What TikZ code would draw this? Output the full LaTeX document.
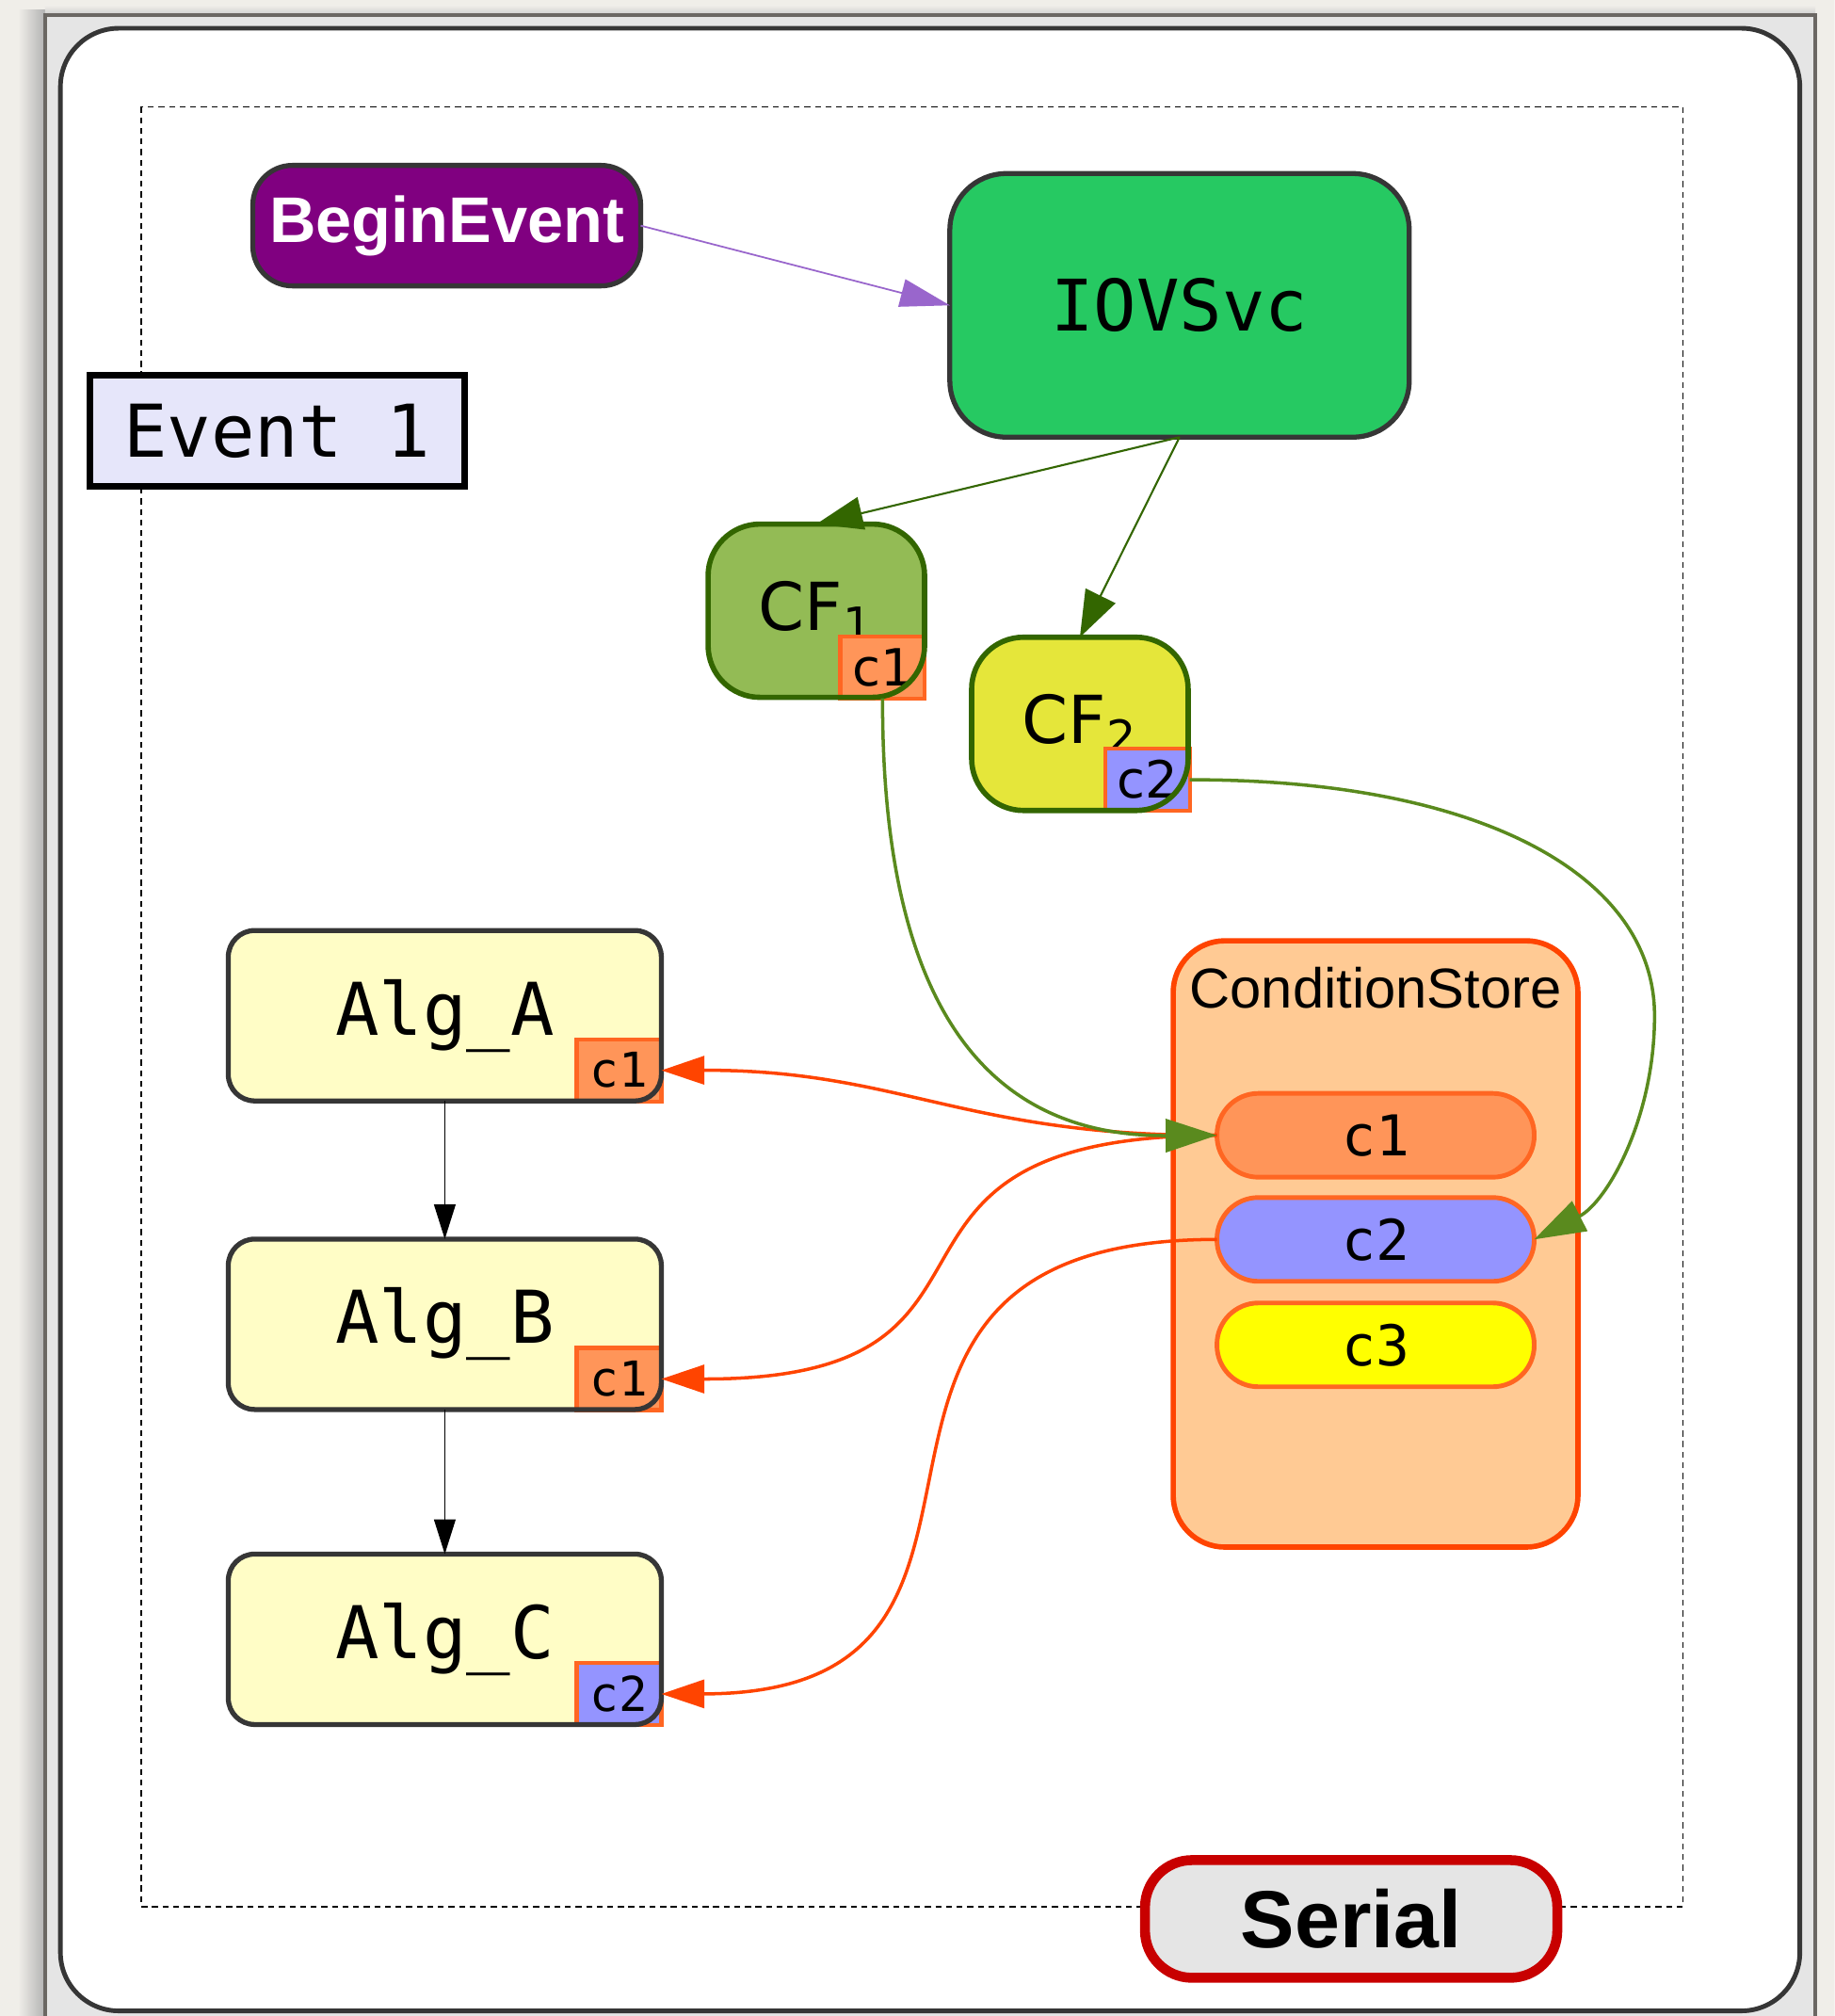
\documentclass[tikz,border=0pt]{standalone}
\usepackage{fontspec}
\setmainfont{Liberation Sans}
\newfontfamily\monofont{DejaVu Sans Mono}
\newfontfamily\cffont{DejaVu Sans}
\usetikzlibrary{arrows.meta,positioning}
\definecolor{paper}{HTML}{F0EEE9}
\definecolor{framegray}{HTML}{E5E5E5}
\definecolor{framedark}{HTML}{6B6763}
\definecolor{edgegray}{HTML}{363636}
\definecolor{mypurple}{HTML}{800080}
\definecolor{linkpurple}{HTML}{9966CC}
\definecolor{iovgreen}{HTML}{26C962}
\definecolor{cfgreen}{HTML}{93BB55}
\definecolor{cfyellow}{HTML}{E5E63A}
\definecolor{darkgreen}{HTML}{336600}
\definecolor{linkgreen}{HTML}{5A8A1E}
\definecolor{condorange}{HTML}{FF9559}
\definecolor{condedge}{HTML}{FF6622}
\definecolor{condblue}{HTML}{9494FF}
\definecolor{condyellow}{HTML}{FFFF00}
\definecolor{storefill}{HTML}{FFCA94}
\definecolor{storeedge}{HTML}{FF4400}
\definecolor{algfill}{HTML}{FFFDC6}
\definecolor{eventfill}{HTML}{E6E6FA}
\definecolor{serialred}{HTML}{C80000}

\begin{document}
\begin{tikzpicture}[x=0.013651cm,y=-0.013651cm,
    box/.style={rectangle, inner sep=0pt, outer sep=0pt},
    beginbox/.style={box, fill=mypurple, draw=edgegray, line width=1.5pt, rounded corners=0.42cm,
        minimum width=4.12cm, minimum height=1.28cm, text=white, font=\fontsize{19.5}{22}\selectfont\bfseries},
    iovbox/.style={box, fill=iovgreen, draw=edgegray, line width=1.5pt, rounded corners=0.6cm,
        minimum width=4.88cm, minimum height=2.8cm, font=\monofont\fontsize{21.5}{24}\selectfont},
    eventbox/.style={box, fill=eventfill, draw=black, line width=2pt,
        minimum width=3.98cm, minimum height=1.18cm, font=\monofont\fontsize{22}{24}\selectfont},
    cfbody/.style={box, rounded corners=0.55cm, minimum width=2.3cm, minimum height=1.84cm,
        font=\cffont\fontsize{20}{22}\selectfont},
    cfline/.style={draw=darkgreen, line width=1.6pt, rounded corners=0.55cm},
    tagbox/.style={box, draw=condedge, line width=1.2pt, minimum width=0.9cm, minimum height=0.66cm},
    algbody/.style={box, fill=algfill, rounded corners=0.28cm, minimum width=4.6cm, minimum height=1.81cm,
        font=\monofont\fontsize{22}{24}\selectfont},
    algline/.style={draw=edgegray, line width=1.5pt, rounded corners=0.28cm},
    storebox/.style={box, fill=storefill, draw=storeedge, line width=1.6pt, rounded corners=0.55cm,
        minimum width=4.3cm, minimum height=6.44cm},
    pill/.style={box, draw=condedge, line width=1.4pt, rounded corners=0.44cm,
        minimum width=3.37cm, minimum height=0.89cm, font=\monofont\fontsize{17}{20}\selectfont},
    serialbox/.style={box, fill=framegray, draw=serialred, line width=3pt, rounded corners=0.5cm,
        minimum width=4.38cm, minimum height=1.25cm, font=\fontsize{24.5}{28}\selectfont\bfseries},
    svclink/.style={draw=darkgreen, line width=0.6pt, -{Triangle[length=14pt,width=10pt]}},
    condlink/.style={draw=linkgreen, line width=1pt, -{Triangle[length=15.5pt,width=10pt]}},
    readlink/.style={draw=storeedge, line width=1pt, -{Triangle[length=13pt,width=8.5pt]}},
    seqlink/.style={draw=black, line width=0.5pt, -{Triangle[length=10.5pt,width=6.5pt]}}]

    %% page, frame and panel
    \useasboundingbox (0,0) rectangle (1427,1568);
    \begin{scope}
        \clip (0,0) rectangle (1427,1568);
        \fill[paper] (0,0) rectangle (1427,1568);
        \shade[left color=paper, right color=black!30] (14,8) rectangle (35,1568);
        \shade[top color=paper, bottom color=black!20] (35,4) rectangle (1412,12);
        \draw[fill=framegray, draw=framedark, line width=1.2pt] (35,12) rectangle (1412,1600);
        \draw[fill=white, draw=edgegray, line width=1.4pt, rounded corners=0.62cm] (47,22) rectangle (1400,1564);
    \end{scope}
    \draw[line width=0.45pt, dash pattern=on 1.8pt off 1.4pt] (110,83) rectangle (1309,1483);

    %% services
    \node[beginbox] (begin) at (347.5,175.5) {BeginEvent};
    \node[iovbox] (iov) at (917.5,237.5) {IOVSvc};
    \node[eventbox] (event) at (215.5,335) {Event 1};

    %% condition algorithms
    \node[cfbody, fill=cfgreen] (cf1) at (635,475) {CF\textsubscript{1}};
    \node[tagbox, fill=condorange, font=\cffont\fontsize{15.5}{17}\selectfont] (tag1) at (686.5,519) {c1};
    \draw[cfline] (cf1.south west) rectangle (cf1.north east);
    \node[cfbody, fill=cfyellow] (cf2) at (840,563) {CF\textsubscript{2}};
    \node[tagbox, fill=condblue, font=\cffont\fontsize{15.5}{17}\selectfont] (tag2) at (892.5,606.5) {c2};
    \draw[cfline] (cf2.south west) rectangle (cf2.north east);

    %% condition store
    \node[storebox] (store) at (1070,967.5) {};
    \node[font=\fontsize{17}{20}\selectfont] (storetitle) at (1070,768) {ConditionStore};
    \node[pill, fill=condorange] (cone) at (1070,883) {c1};
    \node[pill, fill=condblue] (ctwo) at (1070,964) {c2};
    \node[pill, fill=condyellow] (cthree) at (1070,1046) {c3};

    %% algorithms
    \foreach \alg/\y/\tag/\col in {A/790/c1/condorange, B/1030/c1/condorange, C/1275/c2/condblue}{
        \node[algbody] (alg\alg) at (346,\y) {Alg\_\alg};
        \node[tagbox, fill=\col, font=\monofont\fontsize{14.5}{16}\selectfont] (tag\alg) at (481.5,\y+42.5) {\tag};
        \draw[algline] (alg\alg.south west) rectangle (alg\alg.north east);
    }

    \node[serialbox] (serial) at (1051,1492.5) {Serial};

    %% links
    \draw[draw=linkpurple, line width=0.5pt, -{Triangle[length=15pt,width=8.5pt]}] (begin.east) -- (iov.west);
    \draw[svclink] (iov.south) -- (cf1.north);
    \draw[svclink] (iov.south) -- (cf2.north);
    \draw[seqlink] (algA.south) -- (algB.north);
    \draw[seqlink] (algB.south) -- (algC.north);
    \draw[readlink] (cone.west) .. controls (750,884) and (700,832) .. (tagA.east);
    \draw[readlink] (cone.west) .. controls (640,884) and (820,1073) .. (tagB.east);
    \draw[readlink] (ctwo.west) .. controls (590,964) and (845,1317) .. (tagC.east);
    \draw[condlink] (tag1.south) .. controls (686,800) and (780,884) .. (cone.west);
    \draw[condlink] (tag2.east) .. controls (1150,606) and (1287,680) .. (1287,790)
        .. controls (1287,870) and (1250,935) .. (ctwo.east);
\end{tikzpicture}
\end{document}
